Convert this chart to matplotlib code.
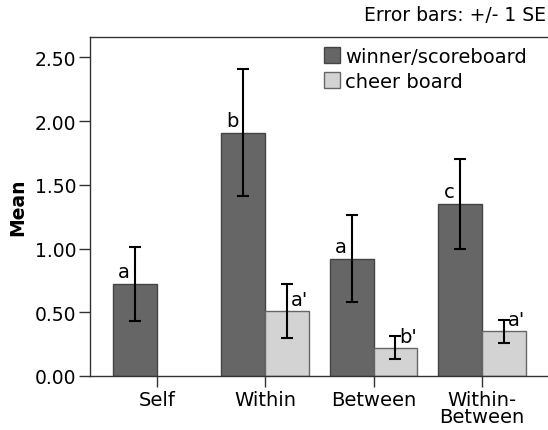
import numpy as np
import matplotlib
matplotlib.use("Agg")
import matplotlib.pyplot as plt

# data
categories = ["Self", "Within", "Between", "Within-\nBetween"]
winner_mean = [0.72, 1.91, 0.92, 1.35]
winner_se = [0.29, 0.50, 0.34, 0.355]
winner_letters = ["a", "b", "a", "c"]
cheer_mean = [np.nan, 0.51, 0.22, 0.35]
cheer_se = [np.nan, 0.21, 0.09, 0.09]
cheer_letters = ["", "a'", "b'", "a'"]
yticks = [0.0, 0.5, 1.0, 1.5, 2.0, 2.5]

DARK = "#666666"
LIGHT = "#d3d3d3"

plt.rcParams["font.family"] = "DejaVu Sans"

fig = plt.figure(figsize=(5.48, 4.31), dpi=100)
ax = fig.add_axes([90/548, 54/431, 458/548, 339/431])

x = np.arange(len(categories))
w = 0.405

ax.bar(x - w/2, winner_mean, w, color=DARK, edgecolor="#444444", linewidth=1,
       label="winner/scoreboard", zorder=2)
ax.bar(x + w/2, cheer_mean, w, color=LIGHT, edgecolor="#666666", linewidth=1,
       label="cheer board", zorder=2)
ax.errorbar(x - w/2, winner_mean, yerr=winner_se, fmt="none", ecolor="black",
            elinewidth=1.5, capsize=4, capthick=1.5, zorder=3)
ax.errorbar(x + w/2, cheer_mean, yerr=cheer_se, fmt="none", ecolor="black",
            elinewidth=1.5, capsize=4, capthick=1.5, zorder=3)

for i in range(len(categories)):
    ax.annotate(winner_letters[i], (x[i] - w/2, winner_mean[i]),
                xytext=(-3.5, 2), textcoords="offset points",
                ha="right", va="bottom", fontsize=14)
    if cheer_letters[i]:
        ax.annotate(cheer_letters[i], (x[i] + w/2, cheer_mean[i]),
                    xytext=(3, 1.5), textcoords="offset points",
                    ha="left", va="bottom", fontsize=14)

ax.set_xlim(-0.617, 3.61)
ax.set_ylim(0, 2.66)
ax.set_yticks(yticks)
ax.set_yticklabels(["%.2f" % v for v in yticks])
ax.set_xticks(x)
ax.set_xticklabels(categories, linespacing=0.9)
ax.tick_params(axis="both", length=8, width=1, color="#333333")
ax.tick_params(axis="x", labelsize=14, pad=2)
ax.tick_params(axis="y", labelsize=13.5, pad=2)

for s in ["left", "bottom", "top"]:
    ax.spines[s].set_color("#333333")
    ax.spines[s].set_linewidth(1)
ax.spines["right"].set_visible(False)

ax.set_ylabel("Mean", fontsize=13.5, fontweight="bold", labelpad=5)

ax.legend(loc="upper left", bbox_to_anchor=(0.485, 1.005), frameon=False,
          fontsize=14, handlelength=0.85, handleheight=0.85, handletextpad=0.25,
          labelspacing=0.3, borderaxespad=0.2)

fig.text(0.997, 0.985, "Error bars: +/- 1 SE", ha="right", va="top", fontsize=13.5)

fig.savefig("out.png", dpi=100)
